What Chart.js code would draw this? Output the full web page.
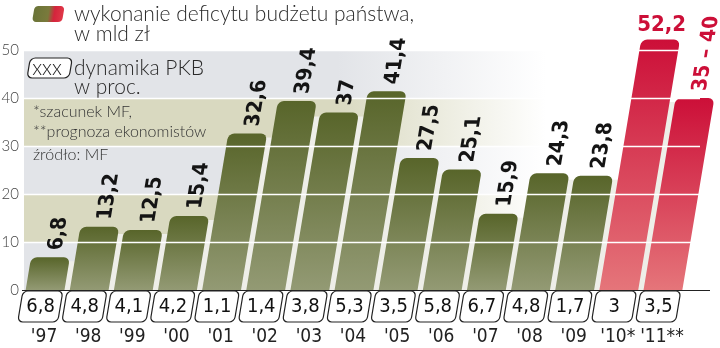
<!DOCTYPE html>
<html>
<head>
<meta charset="utf-8">
<script src="https://cdn.jsdelivr.net/npm/chart.js@4"></script>
<style>
  html, body { margin: 0; padding: 0; background: #fff; }
  #wrap { width: 720px; height: 348px; position: relative; }
</style>
</head>
<body>
<div id="wrap"><canvas id="chart"></canvas></div>
<script>
// data
const years = ["'97", "'98", "'99", "'00", "'01", "'02", "'03", "'04", "'05", "'06", "'07", "'08", "'09", "'10*", "'11**"];
const deficit = [6.8, 13.2, 12.5, 15.4, 32.6, 39.4, 37, 41.4, 27.5, 25.1, 15.9, 24.3, 23.8, 52.2, 40];
const deficitLabels = ['6,8', '13,2', '12,5', '15,4', '32,6', '39,4', '37', '41,4', '27,5', '25,1', '15,9', '24,3', '23,8', '52,2', '35 – 40'];
const gdpGrowth = ['6,8', '4,8', '4,1', '4,2', '1,1', '1,4', '3,8', '5,3', '3,5', '5,8', '6,7', '4,8', '1,7', '3', '3,5'];
const forecast = [false, false, false, false, false, false, false, false, false, false, false, false, false, true, true];
const yTicks = [0, 10, 20, 30, 40, 50];

const SLANT = 0.167;
const GREEN = ['#58652a', '#939a74'];
const RED = ['#cc0f38', '#e5757a'];
const BANDS = ['#e2e4e8', '#d9d9c0'];

function slant(ctx, base) {
    ctx.transform(1, 0, -SLANT, 1, SLANT * base, 0);
}

function barFill(c) {
    const chart = c.chart;
    const idx = c.dataIndex;
    const cols = forecast[idx] ? RED : GREEN;
    if (!chart.chartArea || c.type !== 'data') return cols[0];
    const y = chart.scales.y;
    const g = chart.ctx.createLinearGradient(0, y.getPixelForValue(deficit[idx]), 0, y.getPixelForValue(0));
    g.addColorStop(0, cols[0]);
    g.addColorStop(1, cols[1]);
    return g;
}

const decor = {
    id: 'decor',
    beforeDraw(chart) {
        const { ctx, scales: { y } } = chart;
        ctx.save();
        ctx.fillStyle = '#fff';
        ctx.fillRect(0, 0, chart.width, chart.height);

        // alternating bands, fading to white on the right
        for (let i = 0; i < yTicks.length - 1; i++) {
            const top = y.getPixelForValue(yTicks[i + 1]);
            const bot = y.getPixelForValue(yTicks[i]);
            const g = ctx.createLinearGradient(24, 0, 720, 0);
            g.addColorStop(0, BANDS[i % 2]);
            g.addColorStop(0.45, BANDS[i % 2]);
            g.addColorStop(0.75, '#fff');
            ctx.fillStyle = g;
            ctx.fillRect(24, top, 696, bot - top);
        }

        // legend
        ctx.save();
        slant(ctx, 22);
        const sg = ctx.createLinearGradient(32, 0, 62, 0);
        sg.addColorStop(0, '#6a7438');
        sg.addColorStop(0.5, '#7a7a3c');
        sg.addColorStop(0.7, '#d4243c');
        sg.addColorStop(1, '#e03848');
        ctx.fillStyle = sg;
        ctx.beginPath();
        ctx.roundRect(32, 6, 30, 16, 4);
        ctx.fill();
        ctx.restore();

        ctx.fillStyle = '#2a2a2a';
        ctx.textBaseline = 'alphabetic';
        ctx.textAlign = 'left';
        ctx.font = '300 21px Lato, "Open Sans", sans-serif';
        ctx.fillText('wykonanie deficytu budżetu państwa,', 74, 21);
        ctx.fillText('w mld zł', 74, 41);
        ctx.fillText('dynamika PKB', 74, 75);
        ctx.fillText('w proc.', 74, 94);

        ctx.save();
        slant(ctx, 78);
        ctx.fillStyle = '#fff';
        ctx.strokeStyle = '#222';
        ctx.lineWidth = 1.2;
        ctx.beginPath();
        ctx.roundRect(27, 58, 42, 20, 5);
        ctx.fill();
        ctx.stroke();
        ctx.restore();
        ctx.fillStyle = '#222';
        ctx.textAlign = 'center';
        ctx.fillText('xxx', 47, 75);

        ctx.textAlign = 'left';
        ctx.fillStyle = '#333';
        ctx.font = '300 16px Lato, "Open Sans", sans-serif';
        ctx.fillText('*szacunek MF,', 33, 117);
        ctx.fillText('**prognoza ekonomistów', 33, 137);
        ctx.fillText('źródło: MF', 33, 160);
        ctx.restore();
    },
    beforeDatasetsDraw(chart) {
        const { ctx, scales: { x, y } } = chart;
        const base = y.getPixelForValue(0);
        ctx.save();
        slant(ctx, base);
        // pale gaps between neighbouring bars, up to the lower one
        ctx.fillStyle = '#eeeee8';
        for (let i = 0; i < deficit.length - 1; i++) {
            const gx = (x.getPixelForValue(i) + x.getPixelForValue(i + 1)) / 2;
            const top = y.getPixelForValue(Math.min(deficit[i], deficit[i + 1])) + 4;
            ctx.fillRect(gx - 4, top, 8, base - top);
        }
    },
    afterDatasetsDraw(chart) {
        const { ctx, scales: { x, y } } = chart;
        const base = y.getPixelForValue(0);
        ctx.restore();

        // white grid lines over the bars
        ctx.save();
        ctx.strokeStyle = '#fff';
        ctx.lineWidth = 1.6;
        yTicks.slice(1).forEach(t => {
            const py = Math.round(y.getPixelForValue(t)) + 0.5;
            ctx.beginPath();
            ctx.moveTo(24, py);
            ctx.lineTo(700, py);
            ctx.stroke();
        });

        // value labels, in the slanted frame
        ctx.save();
        slant(ctx, base);
        deficit.forEach((v, i) => {
            if (i === 13) return;
            const top = y.getPixelForValue(v);
            const cx = x.getPixelForValue(i);
            ctx.fillStyle = forecast[i] ? '#cc0f38' : '#141414';
            ctx.font = 'bold 21px "DejaVu Sans Condensed", "Liberation Sans Narrow", sans-serif';
            ctx.save();
            ctx.translate(cx + 4, top - 7);
            ctx.rotate(-Math.PI / 2);
            ctx.textAlign = 'left';
            ctx.textBaseline = 'middle';
            ctx.fillText(deficitLabels[i], 0, 0);
            ctx.restore();
        });
        ctx.restore();

        // the horizontal label of 2010
        const t10 = y.getPixelForValue(deficit[13]);
        ctx.fillStyle = '#cc0f38';
        ctx.font = 'bold 22px "DejaVu Sans Condensed", "Liberation Sans Narrow", sans-serif';
        ctx.textAlign = 'center';
        ctx.textBaseline = 'alphabetic';
        ctx.fillText(deficitLabels[13], x.getPixelForValue(13) + SLANT * (base - t10) + 1, t10 - 8);

        // y tick labels
        ctx.fillStyle = '#444';
        ctx.font = '300 15px Lato, "Open Sans", sans-serif';
        ctx.textAlign = 'right';
        ctx.textBaseline = 'middle';
        yTicks.forEach(t => ctx.fillText(String(t), 19, y.getPixelForValue(t)));

        // baseline
        ctx.strokeStyle = '#222';
        ctx.lineWidth = 1.2;
        ctx.beginPath();
        ctx.moveTo(22, base + 0.5);
        ctx.lineTo(710, base + 0.5);
        ctx.stroke();

        // GDP boxes and years
        years.forEach((yr, i) => {
            const cx = x.getPixelForValue(i) - 2;
            ctx.save();
            slant(ctx, base);
            ctx.fillStyle = '#fff';
            ctx.strokeStyle = '#222';
            ctx.lineWidth = 1.2;
            ctx.beginPath();
            ctx.roundRect(cx - 20, base + 1, 40, 31, 5);
            ctx.fill();
            ctx.stroke();
            ctx.restore();

            ctx.fillStyle = '#111';
            ctx.textAlign = 'center';
            ctx.textBaseline = 'middle';
            ctx.font = '20px "Liberation Sans Narrow", "DejaVu Sans Condensed", sans-serif';
            ctx.fillText(gdpGrowth[i], cx - 2.5, base + 17);
            ctx.font = '19px "Liberation Sans Narrow", "DejaVu Sans Condensed", sans-serif';
            ctx.fillStyle = '#222';
            ctx.fillText(yr, cx + 1, base + 47);
        });
        ctx.restore();
    }
};

new Chart(document.getElementById('chart'), {
    type: 'bar',
    data: {
        labels: years,
        datasets: [{
            data: deficit,
            backgroundColor: barFill,
            borderRadius: { topLeft: 6, topRight: 6, bottomLeft: 0, bottomRight: 0 },
            borderSkipped: 'bottom',
            barPercentage: 0.88,
            categoryPercentage: 1.0,
            clip: false,
        }],
    },
    options: {
        responsive: true,
        maintainAspectRatio: false,
        animation: false,
        layout: { padding: { left: 23, right: 35, top: 2, bottom: 58 } },
        plugins: { legend: { display: false }, tooltip: { enabled: false } },
        scales: {
            x: { display: false },
            y: { display: false, min: 0, max: 60 },
        },
    },
    plugins: [decor],
});
</script>
</body>
</html>
